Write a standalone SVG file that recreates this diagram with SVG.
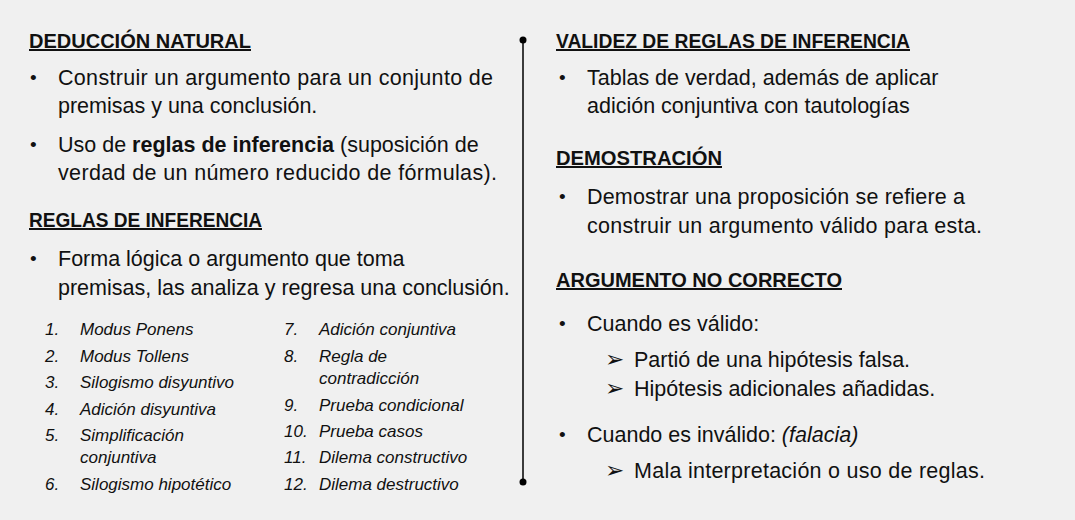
<svg xmlns="http://www.w3.org/2000/svg" width="1075" height="520" viewBox="0 0 1075 520">
<style>
text{font-family:"Liberation Sans",Arial,sans-serif;fill:#111}
.h{font-size:20px;font-weight:bold;text-decoration:underline}
.t{font-size:21.5px}
.b{font-size:19px}
.a{font-size:23px;font-family:"DejaVu Sans",sans-serif}
.l{font-size:17px;font-style:italic}
</style>
<rect width="1075" height="520" fill="#f0f0f0"/>
<g id="connectors">
<line x1="523" y1="40" x2="523" y2="482" stroke="#000" stroke-width="1.5"/>
<circle cx="523" cy="40" r="3.5" fill="#000"/>
<circle cx="523" cy="482" r="3.5" fill="#000"/>
</g>
<g id="deduccion">
<text class="h" x="29" y="48" textLength="222" lengthAdjust="spacingAndGlyphs">DEDUCCIÓN NATURAL</text>
<text class="b" x="30" y="84">•</text>
<text class="t" x="58" y="85" textLength="435" lengthAdjust="spacing">Construir un argumento para un conjunto de</text>
<text class="t" x="58" y="113">premisas y una conclusión.</text>
<text class="b" x="30" y="151">•</text>
<text class="t" x="58" y="152">Uso de <tspan font-weight="bold">reglas de inferencia</tspan> (suposición de</text>
<text class="t" x="58" y="180" textLength="439" lengthAdjust="spacing">verdad de un número reducido de fórmulas).</text>
</g>
<g id="reglas">
<text class="h" x="29" y="227" textLength="233" lengthAdjust="spacingAndGlyphs">REGLAS DE INFERENCIA</text>
<text class="b" x="30" y="265">•</text>
<text class="t" x="58" y="266">Forma lógica o argumento que toma</text>
<text class="t" x="58" y="295">premisas, las analiza y regresa una conclusión.</text>
<text class="l" x="45" y="335">1.</text><text class="l" x="80" y="335">Modus Ponens</text>
<text class="l" x="45" y="362">2.</text><text class="l" x="80" y="362">Modus Tollens</text>
<text class="l" x="45" y="388">3.</text><text class="l" x="80" y="388">Silogismo disyuntivo</text>
<text class="l" x="45" y="415">4.</text><text class="l" x="80" y="415">Adición disyuntiva</text>
<text class="l" x="45" y="441">5.</text><text class="l" x="80" y="441">Simplificación</text>
<text class="l" x="80" y="463">conjuntiva</text>
<text class="l" x="45" y="490">6.</text><text class="l" x="80" y="490">Silogismo hipotético</text>
<text class="l" x="284" y="335">7.</text><text class="l" x="319" y="335">Adición conjuntiva</text>
<text class="l" x="284" y="362">8.</text><text class="l" x="319" y="362">Regla de</text>
<text class="l" x="319" y="384">contradicción</text>
<text class="l" x="284" y="411">9.</text><text class="l" x="319" y="411">Prueba condicional</text>
<text class="l" x="284" y="437">10.</text><text class="l" x="319" y="437">Prueba casos</text>
<text class="l" x="284" y="463">11.</text><text class="l" x="319" y="463">Dilema constructivo</text>
<text class="l" x="284" y="490">12.</text><text class="l" x="319" y="490">Dilema destructivo</text>
</g>
<g id="validez">
<text class="h" x="556" y="48" textLength="354" lengthAdjust="spacingAndGlyphs">VALIDEZ DE REGLAS DE INFERENCIA</text>
<text class="b" x="559" y="84">•</text>
<text class="t" x="587" y="85">Tablas de verdad, además de aplicar</text>
<text class="t" x="587" y="113">adición conjuntiva con tautologías</text>
</g>
<g id="demostracion">
<text class="h" x="556" y="165" textLength="166" lengthAdjust="spacingAndGlyphs">DEMOSTRACIÓN</text>
<text class="b" x="559" y="203">•</text>
<text class="t" x="587" y="204" textLength="378" lengthAdjust="spacing">Demostrar una proposición se refiere a</text>
<text class="t" x="587" y="233" textLength="395" lengthAdjust="spacing">construir un argumento válido para esta.</text>
</g>
<g id="argumento">
<text class="h" x="556" y="287" textLength="286" lengthAdjust="spacingAndGlyphs">ARGUMENTO NO CORRECTO</text>
<text class="b" x="559" y="330">•</text>
<text class="t" x="587" y="331">Cuando es válido:</text>
<text class="a" x="605" y="367">➢</text>
<text class="t" x="634" y="367">Partió de una hipótesis falsa.</text>
<text class="a" x="605" y="396">➢</text>
<text class="t" x="634" y="396">Hipótesis adicionales añadidas.</text>
<text class="b" x="559" y="441">•</text>
<text class="t" x="587" y="442">Cuando es inválido: <tspan font-style="italic">(falacia)</tspan></text>
<text class="a" x="605" y="478">➢</text>
<text class="t" x="634" y="478" textLength="351" lengthAdjust="spacing">Mala interpretación o uso de reglas.</text>
</g>
</svg>
